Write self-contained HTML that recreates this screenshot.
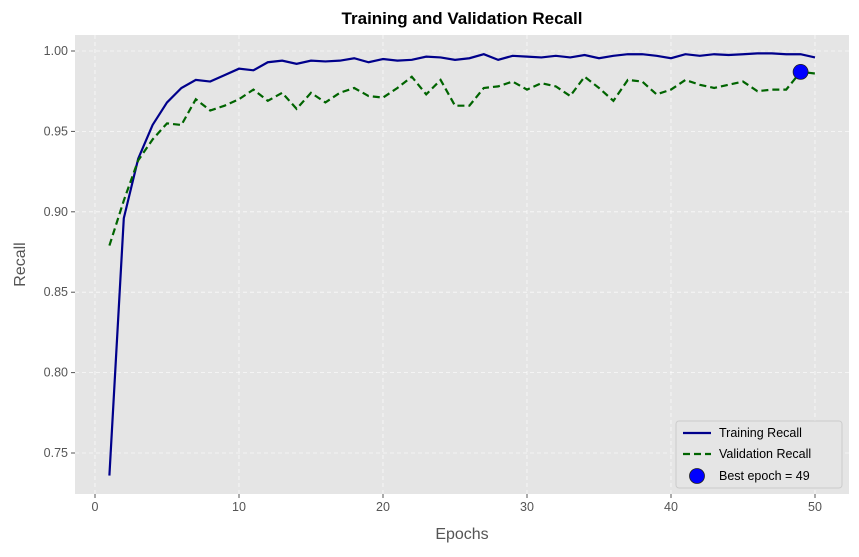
<!DOCTYPE html>
<html><head><meta charset="utf-8"><style>
body{margin:0;background:#fff;width:859px;height:552px;overflow:hidden;font-family:"Liberation Sans","DejaVu Sans",sans-serif}
</style></head><body>
<svg id="chart" width="859" height="552" xmlns="http://www.w3.org/2000/svg"></svg>
<script>
const epochs=[];for(let i=1;i<=50;i++)epochs.push(i);
const trainRecall=[0.736,0.896,0.933,0.954,0.968,0.977,0.982,0.981,0.985,0.989,0.988,0.993,0.994,0.992,0.994,0.9935,0.994,0.9955,0.993,0.995,0.994,0.9945,0.9965,0.996,0.9945,0.9955,0.998,0.9945,0.997,0.9965,0.996,0.997,0.996,0.9975,0.9955,0.997,0.998,0.998,0.997,0.9955,0.998,0.997,0.998,0.9975,0.998,0.9985,0.9985,0.998,0.998,0.996];
const valRecall=[0.879,0.907,0.932,0.945,0.955,0.954,0.970,0.963,0.966,0.970,0.976,0.969,0.974,0.964,0.974,0.968,0.974,0.977,0.972,0.971,0.977,0.984,0.973,0.982,0.966,0.966,0.977,0.978,0.981,0.976,0.980,0.978,0.972,0.984,0.977,0.969,0.982,0.981,0.973,0.976,0.982,0.979,0.977,0.979,0.981,0.975,0.976,0.976,0.987,0.986];
const bestEpoch=49;
const xTicks=[0,10,20,30,40,50];
const yTicks=[0.75,0.80,0.85,0.90,0.95,1.00];
const L=75,R=849,T=35,B=494;
const xs=v=>95+(v-0)*(815-95)/50;
const ys=v=>453+(v-0.75)*(51-453)/0.25;
const svg=document.getElementById('chart');
const NS='http://www.w3.org/2000/svg';
function mk(tag,attrs,parent){const e=document.createElementNS(NS,tag);for(const k in attrs)e.setAttribute(k,attrs[k]);(parent||svg).appendChild(e);return e;}
const bg=mk('rect',{x:L,y:T,width:R-L,height:B-T,fill:'#e5e5e5'});


xTicks.forEach(t=>{const x=xs(t);
 const g=mk('line',{x1:x,x2:x,y1:T,y2:B,stroke:'#fff','stroke-dasharray':'4,3','stroke-width':0.8,opacity:0.8});
 
 
 mk('line',{x1:x,x2:x,y1:B,y2:B+4,stroke:'#555'});
 const tx=mk('text',{x:x,y:B+17,'text-anchor':'middle','font-size':12.5,fill:'#555'});tx.textContent=t;
 
 
});
yTicks.forEach(t=>{const y=ys(t);
 const g=mk('line',{x1:L,x2:R,y1:y,y2:y,stroke:'#fff','stroke-dasharray':'4,3','stroke-width':0.8,opacity:0.8});
 
 
 mk('line',{x1:L-4,x2:L,y1:y,y2:y,stroke:'#555'});
 const tx=mk('text',{x:L-7,y:y+4,'text-anchor':'end','font-size':12.5,fill:'#555'});tx.textContent=t.toFixed(2);
 
 
});
const tp=mk('polyline',{points:epochs.map((e,i)=>xs(e)+','+ys(trainRecall[i])).join(' '),fill:'none',stroke:'#00008b','stroke-width':2.2});


const vp=mk('polyline',{points:epochs.map((e,i)=>xs(e)+','+ys(valRecall[i])).join(' '),fill:'none',stroke:'#006400','stroke-width':2.2,'stroke-dasharray':'7,4'});


const bm=mk('circle',{cx:xs(bestEpoch),cy:ys(valRecall[bestEpoch-1]),r:7.5,fill:'#0000ff',stroke:'#222','stroke-width':0.8});


const title=mk('text',{x:(L+R)/2,y:24,'text-anchor':'middle','font-size':17,'font-weight':'bold',fill:'#000'});title.textContent='Training and Validation Recall';


const xl=mk('text',{x:(L+R)/2,y:539,'text-anchor':'middle','font-size':16,fill:'#555'});xl.textContent='Epochs';


const yl=mk('text',{x:25,y:(T+B)/2,'text-anchor':'middle','font-size':16,fill:'#555',transform:'rotate(-90 25 '+(T+B)/2+')'});yl.textContent='Recall';


const lg=mk('g',{});


mk('rect',{x:676,y:421,width:166,height:67,rx:3,fill:'#e5e5e5',stroke:'#ccc'},lg);
mk('line',{x1:683,x2:711,y1:433,y2:433,stroke:'#00008b','stroke-width':2.2},lg);
mk('line',{x1:683,x2:711,y1:454,y2:454,stroke:'#006400','stroke-width':2.2,'stroke-dasharray':'7,4'},lg);
mk('circle',{cx:697,cy:476,r:7.5,fill:'#0000ff',stroke:'#222','stroke-width':0.8},lg);
[['Training Recall',437,'legend-entry-training'],['Validation Recall',458,'legend-entry-validation'],['Best epoch = 49',480,'legend-entry-best']].forEach(a=>{
 const t=mk('text',{x:719,y:a[1],'font-size':12.5,fill:'#000'},lg);t.textContent=a[0];
 
 
});
</script>
</body></html>
